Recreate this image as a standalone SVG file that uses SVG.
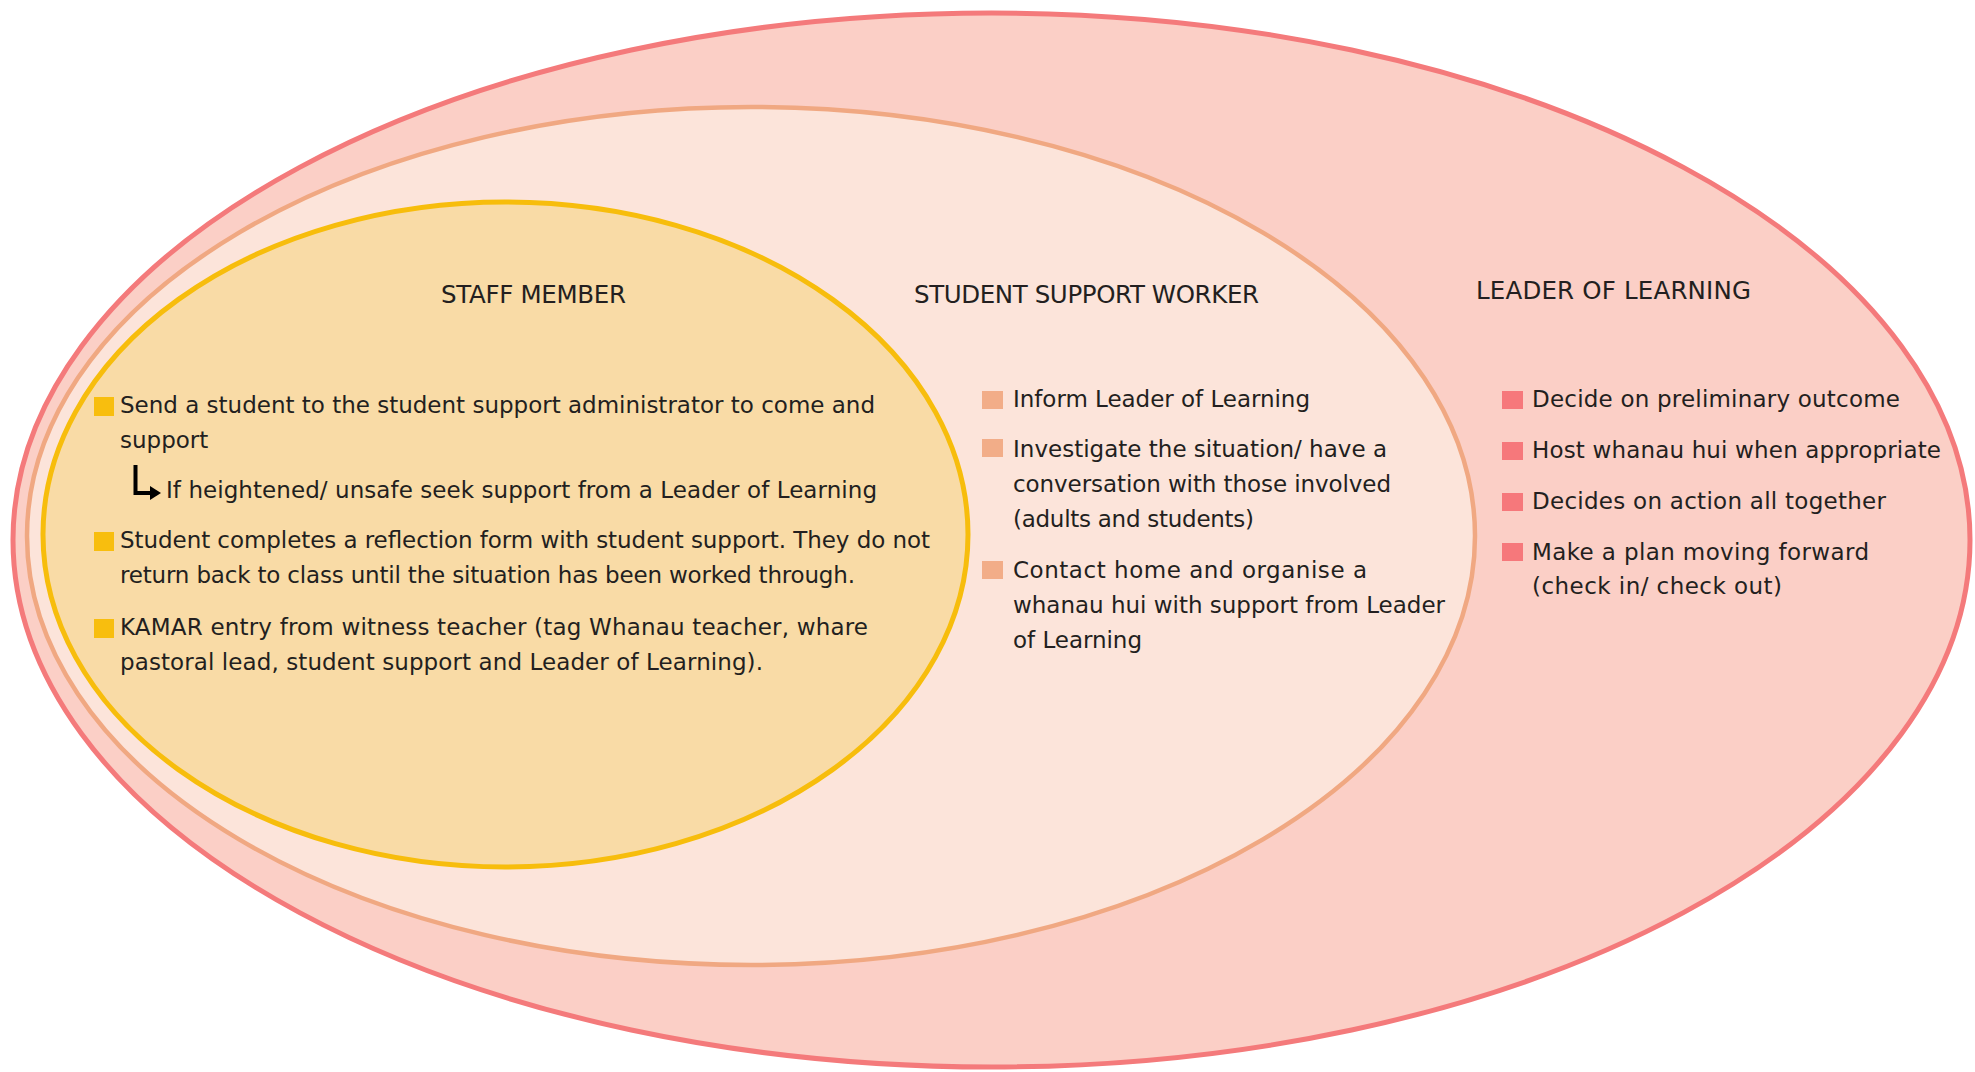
<svg xmlns="http://www.w3.org/2000/svg" width="1975" height="1072" viewBox="0 0 1975 1072">
<style>
text{font-family:"DejaVu Sans","Liberation Sans",sans-serif;fill:#231f20}
.h{font-size:24.5px}
.t{font-size:23px}
.by{fill:#f8be0e}
.bp{fill:#f2ad88}
.bc{fill:#f6787b}
</style>
<rect x="0" y="0" width="1975" height="1072" fill="#ffffff"/>
<g id="leader-of-learning">
<ellipse cx="991.5" cy="540" rx="978.5" ry="527" fill="#fbcfc6" stroke="#f47a7b" stroke-width="5"/>
</g>
<g id="student-support-worker">
<ellipse cx="751" cy="536" rx="724" ry="429" fill="#fce4da" stroke="#f0a882" stroke-width="4.5"/>
</g>
<g id="staff-member">
<ellipse cx="505.5" cy="534.5" rx="462.5" ry="332.5" fill="#f9dba6" stroke="#f7bd0c" stroke-width="5"/>
</g>
<g id="staff-member-text">
<text class="h" x="441" y="303" textLength="185">STAFF MEMBER</text>
<rect class="by" x="94" y="397" width="20" height="19"/>
<text class="t" x="120" y="413" textLength="755">Send a student to the student support administrator to come and</text>
<text class="t" x="120" y="448">support</text>
<text class="t" x="166" y="498" textLength="711">If heightened/ unsafe seek support from a Leader of Learning</text>
<rect class="by" x="94" y="532" width="20" height="19"/>
<text class="t" x="120" y="548" textLength="810">Student completes a reflection form with student support. They do not</text>
<text class="t" x="120" y="583" textLength="735">return back to class until the situation has been worked through.</text>
<rect class="by" x="94" y="619" width="20" height="19"/>
<text class="t" x="120" y="635" textLength="748">KAMAR entry from witness teacher (tag Whanau teacher, whare</text>
<text class="t" x="120" y="670" textLength="643">pastoral lead, student support and Leader of Learning).</text>
</g>
<g id="student-support-worker-text">
<text class="h" x="914" y="303" textLength="345">STUDENT SUPPORT WORKER</text>
<rect class="bp" x="982" y="391" width="21" height="18"/>
<text class="t" x="1013" y="407" textLength="297">Inform Leader of Learning</text>
<rect class="bp" x="982" y="439" width="21" height="18"/>
<text class="t" x="1013" y="457" textLength="374">Investigate the situation/ have a</text>
<text class="t" x="1013" y="492" textLength="378">conversation with those involved</text>
<text class="t" x="1013" y="527" textLength="241">(adults and students)</text>
<rect class="bp" x="982" y="561" width="21" height="18"/>
<text class="t" x="1013" y="578" textLength="354">Contact home and organise a</text>
<text class="t" x="1013" y="613" textLength="432">whanau hui with support from Leader</text>
<text class="t" x="1013" y="648" textLength="129">of Learning</text>
</g>
<g id="leader-of-learning-text">
<text class="h" x="1476" y="299" textLength="275">LEADER OF LEARNING</text>
<rect class="bc" x="1502" y="391" width="21" height="18"/>
<text class="t" x="1532" y="407" textLength="368">Decide on preliminary outcome</text>
<rect class="bc" x="1502" y="442" width="21" height="18"/>
<text class="t" x="1532" y="458" textLength="409">Host whanau hui when appropriate</text>
<rect class="bc" x="1502" y="493" width="21" height="18"/>
<text class="t" x="1532" y="509" textLength="354">Decides on action all together</text>
<rect class="bc" x="1502" y="543" width="21" height="18"/>
<text class="t" x="1532" y="560" textLength="337">Make a plan moving forward</text>
<text class="t" x="1532" y="594" textLength="250">(check in/ check out)</text>
</g>
<g id="connectors">
<path d="M135.5 465 V493 H151" fill="none" stroke="#000" stroke-width="4"/>
<polygon points="150,486 161,493 150,500" fill="#000"/>
</g>
</svg>
